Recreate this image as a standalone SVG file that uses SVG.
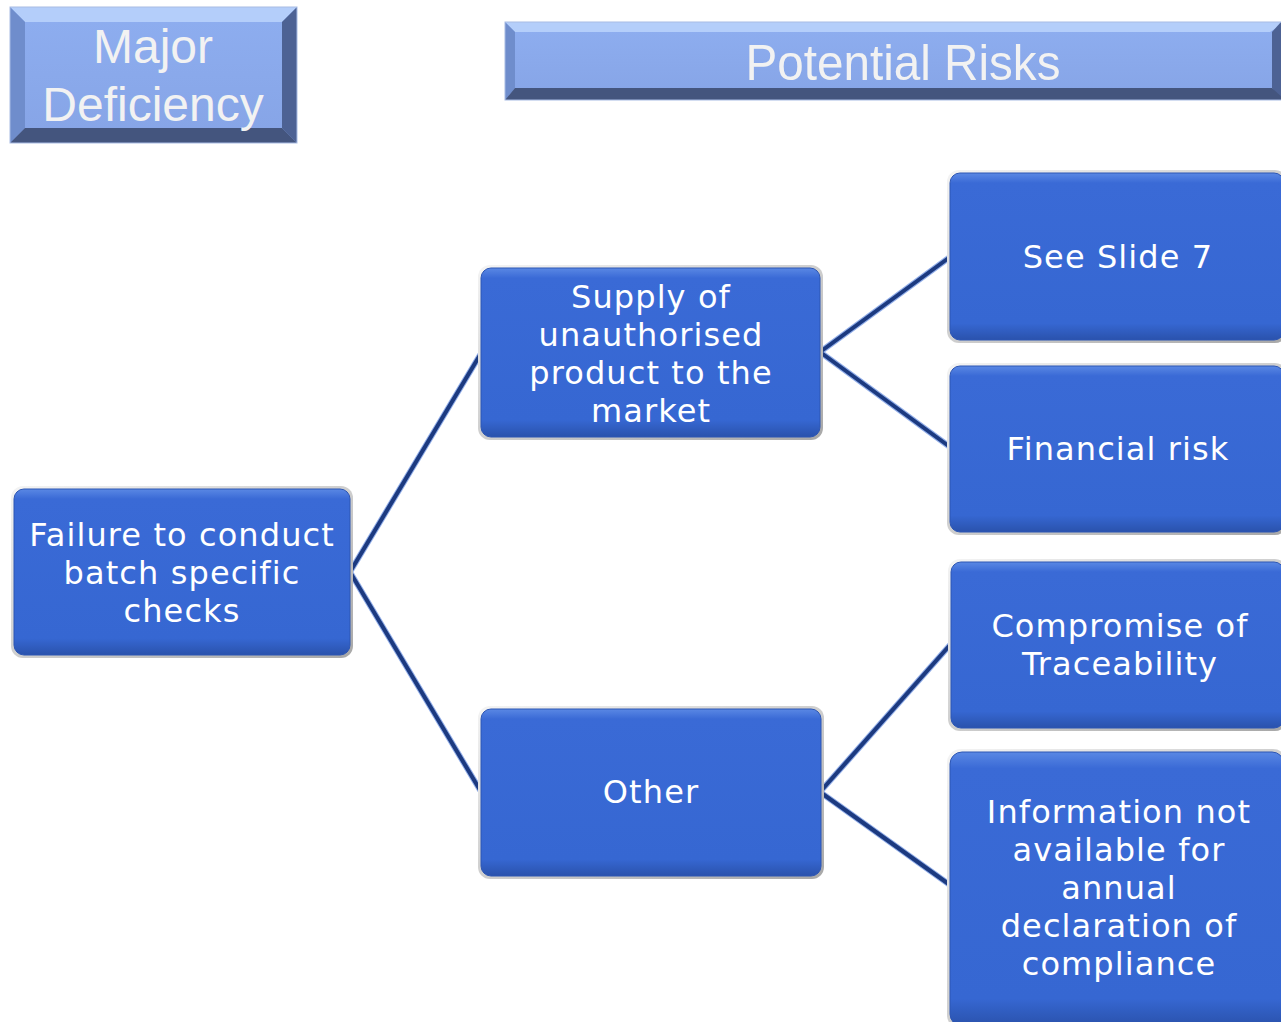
<svg xmlns="http://www.w3.org/2000/svg" width="1281" height="1022" viewBox="0 0 1281 1022">
  <defs>
    <linearGradient id="boxShade" x1="0" y1="0" x2="0" y2="1">
      <stop offset="0" stop-color="#5a88e4"/>
      <stop offset="0.06" stop-color="#3a6ad6"/>
      <stop offset="0.9" stop-color="#3667d2"/>
      <stop offset="1" stop-color="#2a52ac"/>
    </linearGradient>
    <linearGradient id="halo" x1="0" y1="0" x2="1" y2="1">
      <stop offset="0" stop-color="#f4f4f4"/>
      <stop offset="1" stop-color="#a8a8a8"/>
    </linearGradient>
    <linearGradient id="capFace" x1="0" y1="0" x2="0" y2="1">
      <stop offset="0" stop-color="#8eaef0"/>
      <stop offset="1" stop-color="#86a4e6"/>
    </linearGradient>
  </defs>
  <style>
    .halo { fill: url(#halo); }
    .box { fill: url(#boxShade); stroke: #2d56b4; stroke-width: 1; }
    .lbl { font-family: "DejaVu Sans", Verdana, sans-serif; font-size: 32px; letter-spacing: 1.1px; fill: #ffffff; text-anchor: middle; }
    .cap { font-family: "Liberation Sans", Arial, sans-serif; fill: #f2f2f2; text-anchor: middle; }
    .link { fill: none; stroke: #1c3a80; stroke-width: 4; stroke-linecap: round; }
    .linkEdge { fill: none; stroke: #4a78d8; stroke-width: 6; stroke-linecap: round; opacity: 0.6; }
  </style>

  <rect width="1281" height="1022" fill="#ffffff"/>

  <!-- bevelled heading: Major Deficiency -->
  <g id="major-deficiency">
    <rect x="10" y="7" width="287" height="136" fill="url(#capFace)"/>
    <polygon points="10,7 297,7 282,22 25,22" fill="#b4cefa"/>
    <polygon points="10,7 25,22 25,128 10,143" fill="#6f8dcc"/>
    <polygon points="297,7 297,143 282,128 282,22" fill="#4d6294"/>
    <polygon points="10,143 25,128 282,128 297,143" fill="#44557e"/>
    <rect x="10" y="7" width="287" height="136" fill="none" stroke="#a8bce4" stroke-width="1"/>
    <text class="cap" x="153" y="63" font-size="48">Major</text>
    <text class="cap" x="153" y="121" font-size="48">Deficiency</text>
  </g>

  <!-- bevelled heading: Potential Risks -->
  <g id="potential-risks">
    <rect x="505" y="22" width="780" height="78" fill="url(#capFace)"/>
    <polygon points="505,22 1285,22 1270,32 515,32" fill="#b4cefa"/>
    <polygon points="505,22 515,32 515,88 505,100" fill="#6f8dcc"/>
    <polygon points="1281,22 1281,100 1272,88 1272,32" fill="#4d6294"/>
    <polygon points="505,100 515,88 1272,88 1285,100" fill="#44557e"/>
    <rect x="505" y="22" width="780" height="78" fill="none" stroke="#a8bce4" stroke-width="1"/>
    <text class="cap" x="903" y="80" font-size="50" textLength="315" lengthAdjust="spacingAndGlyphs">Potential Risks</text>
  </g>

  <!-- connectors -->
  <g id="connectors">
    <path class="linkEdge" d="M350,572 L480,355 M350,572 L480,790 M820,352 L950,257 M820,352 L950,447 M820,792 L950,645 M820,792 L950,885"/>
    <path class="link" d="M350,572 L480,355 M350,572 L480,790 M820,352 L950,257 M820,352 L950,447 M820,792 L950,645 M820,792 L950,885"/>
  </g>

  <!-- root -->
  <g id="failure">
    <rect class="halo" x="11" y="486" width="342" height="172" rx="12"/>
    <rect class="box" x="14" y="489" width="336" height="166" rx="10"/>
    <text class="lbl" x="182" y="546">Failure to conduct</text>
    <text class="lbl" x="182" y="584">batch specific</text>
    <text class="lbl" x="182" y="622">checks</text>
  </g>

  <!-- second level -->
  <g id="supply">
    <rect class="halo" x="478" y="265" width="345" height="175" rx="12"/>
    <rect class="box" x="481" y="268" width="339" height="169" rx="10"/>
    <text class="lbl" x="651" y="308">Supply of</text>
    <text class="lbl" x="651" y="346">unauthorised</text>
    <text class="lbl" x="651" y="384">product to the</text>
    <text class="lbl" x="651" y="422">market</text>
  </g>

  <g id="other">
    <rect class="halo" x="478" y="706" width="346" height="173" rx="12"/>
    <rect class="box" x="481" y="709" width="340" height="167" rx="10"/>
    <text class="lbl" x="651" y="803">Other</text>
  </g>

  <!-- third level -->
  <g id="see-slide-7">
    <rect class="halo" x="947" y="170" width="340" height="173" rx="12"/>
    <rect class="box" x="950" y="173" width="334" height="167" rx="10"/>
    <text class="lbl" x="1118" y="268">See Slide 7</text>
  </g>

  <g id="financial-risk">
    <rect class="halo" x="947" y="363" width="340" height="172" rx="12"/>
    <rect class="box" x="950" y="366" width="334" height="166" rx="10"/>
    <text class="lbl" x="1118" y="460">Financial risk</text>
  </g>

  <g id="traceability">
    <rect class="halo" x="948" y="559" width="339" height="172" rx="12"/>
    <rect class="box" x="951" y="562" width="333" height="166" rx="10"/>
    <text class="lbl" x="1120" y="637">Compromise of</text>
    <text class="lbl" x="1120" y="675">Traceability</text>
  </g>

  <g id="information">
    <rect class="halo" x="947" y="749" width="340" height="280" rx="14"/>
    <rect class="box" x="950" y="752" width="334" height="274" rx="12"/>
    <text class="lbl" x="1119" y="823">Information not</text>
    <text class="lbl" x="1119" y="861">available for</text>
    <text class="lbl" x="1119" y="899">annual</text>
    <text class="lbl" x="1119" y="937">declaration of</text>
    <text class="lbl" x="1119" y="975">compliance</text>
  </g>
</svg>
